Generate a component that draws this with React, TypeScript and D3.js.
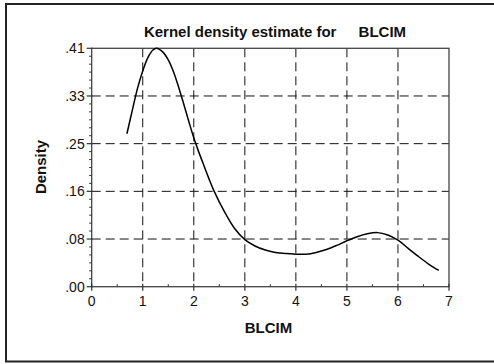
import React from "react";
import * as d3 from "d3";

const xTicks = [0, 1, 2, 3, 4, 5, 6, 7];
const yTicks = [0, 0.082, 0.164, 0.246, 0.328, 0.41];
const yTickLabels = [".00", ".08", ".16", ".25", ".33", ".41"];
const xValues = [0.69, 0.8, 0.9, 1.0, 1.1, 1.2, 1.27, 1.4, 1.5, 1.6, 1.7, 1.8, 1.9, 2.0, 2.1, 2.2, 2.3, 2.4, 2.6, 2.8, 3.0, 3.2, 3.4, 3.6, 3.8, 4.0, 4.2, 4.4, 4.6, 4.8, 5.0, 5.2, 5.4, 5.6, 5.8, 6.0, 6.2, 6.4, 6.6, 6.8];
const densityValues = [0.263, 0.305, 0.342, 0.371, 0.394, 0.407, 0.41, 0.403, 0.39, 0.37, 0.344, 0.315, 0.285, 0.256, 0.231, 0.208, 0.185, 0.164, 0.129, 0.1, 0.081, 0.07, 0.063, 0.059, 0.057, 0.056, 0.056, 0.059, 0.064, 0.071, 0.079, 0.086, 0.091, 0.093, 0.089, 0.08, 0.066, 0.052, 0.039, 0.028];
const titleMain = "Kernel density estimate for";
const titleVar = "BLCIM";
const xLabel = "BLCIM";
const yLabel = "Density";

const W = 494;
const H = 364;
const L = 91.7, R = 449, T = 48.3, B = 286.7;
const font = "'Liberation Sans', Arial, Helvetica, sans-serif";

export default function App() {
  const x = d3.scaleLinear().domain([0, 7]).range([L, R]);
  const y = d3.scaleLinear().domain([0, 0.41]).range([B, T]);
  const pts = xValues.map((v, i) => [v, densityValues[i]] as [number, number]);
  const line = d3.line<[number, number]>().x(d => x(d[0])).y(d => y(d[1])).curve(d3.curveCatmullRom.alpha(0.5));
  const yMinor: number[] = [];
  for (let i = 0; i < yTicks.length - 1; i++) {
    const a = yTicks[i], b = yTicks[i + 1];
    for (let k = 1; k < 6; k++) yMinor.push(a + ((b - a) * k) / 6);
  }
  const xMinor = xTicks.slice(0, -1).map(v => v + 0.5);
  return (
    <svg width={W} height={H} style={{ position: "absolute", left: 0, top: 0, background: "#fff" }} fontFamily={font}>
      <rect x={6} y={4} width={600} height={357.5} fill="none" stroke="#222" strokeWidth={2} />
      {/* grid */}
      {xTicks.slice(1, -1).map(v => (
        <line key={"gx" + v} x1={x(v)} x2={x(v)} y1={T} y2={B} stroke="#111" strokeWidth={1} strokeDasharray="9,5" />
      ))}
      {yTicks.slice(1, -1).map(v => (
        <line key={"gy" + v} x1={L} x2={R} y1={y(v)} y2={y(v)} stroke="#111" strokeWidth={1} strokeDasharray="9,5" />
      ))}
      {/* frame */}
      <rect x={L} y={T} width={R - L} height={B - T} fill="none" stroke="#444" strokeWidth={1.3} />
      {/* y ticks */}
      {yTicks.map(v => (
        <line key={"yt" + v} x1={L - 5} x2={L + 1} y1={y(v)} y2={y(v)} stroke="#333" strokeWidth={1.2} />
      ))}
      {yMinor.map((v, i) => (
        <line key={"ym" + i} x1={L - 2.5} x2={L} y1={y(v)} y2={y(v)} stroke="#333" strokeWidth={1} />
      ))}
      {yTicks.map((v, i) => (
        <text key={"yl" + v} x={L - 7} y={y(v)} dy="0.36em" textAnchor="end" fontSize={14} fill="#111">{yTickLabels[i]}</text>
      ))}
      {/* x ticks */}
      {xTicks.map(v => (
        <line key={"xt" + v} x1={x(v)} x2={x(v)} y1={B - 3} y2={B + 4} stroke="#333" strokeWidth={1.2} />
      ))}
      {xMinor.map(v => (
        <line key={"xm" + v} x1={x(v)} x2={x(v)} y1={B - 2.5} y2={B} stroke="#333" strokeWidth={1} />
      ))}
      {xTicks.map(v => (
        <text key={"xl" + v} x={x(v)} y={306} textAnchor="middle" fontSize={14} fill="#111">{v}</text>
      ))}
      {/* curve */}
      <path d={line(pts) || ""} fill="none" stroke="#000" strokeWidth={1.5} />
      {/* titles */}
      <text x={275} y={37} textAnchor="middle" fontSize={15} fontWeight="bold" fill="#111">
        <tspan>{titleMain}</tspan>
        <tspan dx={18}>{" " + titleVar}</tspan>
      </text>
      <text x={268.5} y={333} textAnchor="middle" fontSize={15} fontWeight="bold" fill="#111">{xLabel}</text>
      <text transform={`translate(46,167) rotate(-90)`} textAnchor="middle" fontSize={15} fontWeight="bold" fill="#111">{yLabel}</text>
    </svg>
  );
}
